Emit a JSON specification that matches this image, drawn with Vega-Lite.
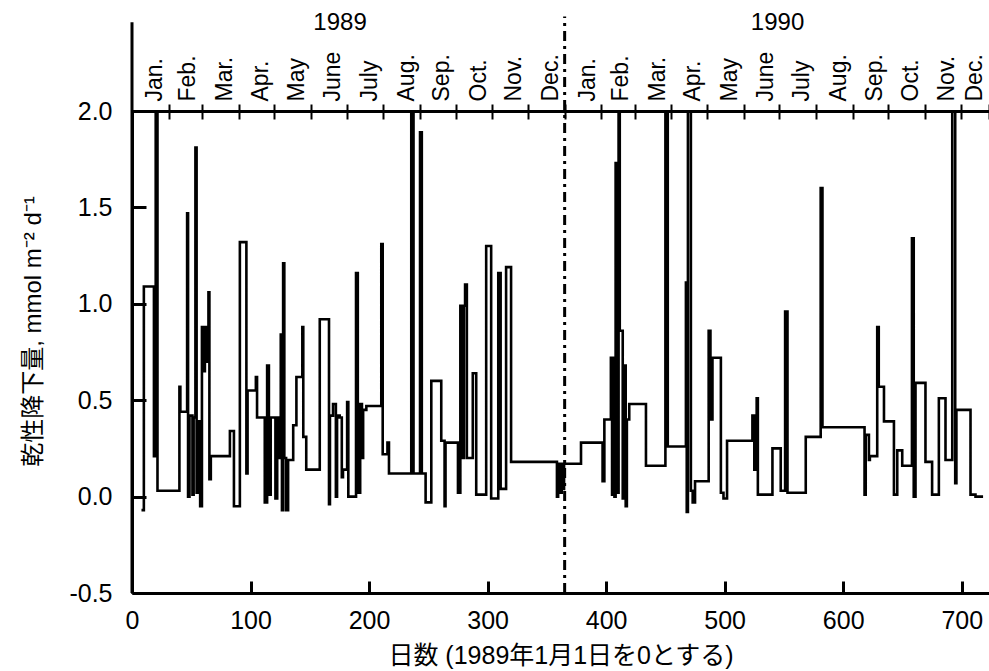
{
  "$schema": "https://vega.github.io/schema/vega-lite/v6.json",
  "width": 857,
  "height": 482,
  "autosize": {"type": "none"},
  "padding": {"left": 132, "top": 111, "right": 0, "bottom": 78},
  "background": "white",
  "config": {
    "view": {"stroke": null},
    "font": "Liberation Sans, Noto Sans CJK JP, sans-serif",
    "axis": {
      "grid": false,
      "labelColor": "black",
      "domainColor": "black",
      "tickColor": "black",
      "titleColor": "black",
      "labelFlush": false,
      "labelOverlap": false,
      "labelBound": false,
      "labelFont": "Liberation Sans, Noto Sans CJK JP, sans-serif",
      "titleFont": "Liberation Sans, Noto Sans CJK JP, sans-serif",
      "titleFontWeight": "normal"
    }
  },
  "datasets": {
    "series": [
      {"d": 8, "v": -0.07}, {"d": 10, "v": 1.09}, {"d": 18.5, "v": 0.21}, {"d": 19.3, "v": 1.0},
      {"d": 20, "v": 2.3}, {"d": 21.5, "v": 0.03}, {"d": 40, "v": 0.57}, {"d": 40.8, "v": 0.44},
      {"d": 46.5, "v": 1.47}, {"d": 47.3, "v": 0.0}, {"d": 48.5, "v": 0.42}, {"d": 51, "v": 0.01},
      {"d": 52, "v": 0.41}, {"d": 53.5, "v": 1.81}, {"d": 54.5, "v": 0.02}, {"d": 55.5, "v": 0.39},
      {"d": 57.5, "v": -0.05}, {"d": 59, "v": 0.88}, {"d": 60.5, "v": 0.65}, {"d": 61.5, "v": 0.88},
      {"d": 63, "v": 0.7}, {"d": 64.5, "v": 1.06}, {"d": 65.3, "v": 0.09}, {"d": 66.5, "v": 0.21},
      {"d": 82.6, "v": 0.34}, {"d": 86, "v": -0.05}, {"d": 91, "v": 1.32}, {"d": 96.5, "v": 0.12},
      {"d": 97.5, "v": 0.55}, {"d": 104.5, "v": 0.62}, {"d": 105.5, "v": 0.41}, {"d": 112, "v": -0.03},
      {"d": 114, "v": 0.68}, {"d": 115.5, "v": 0.01}, {"d": 117, "v": 0.41}, {"d": 121, "v": -0.01},
      {"d": 122.5, "v": 0.41}, {"d": 124.5, "v": 0.2}, {"d": 125.5, "v": 0.84}, {"d": 126.5, "v": -0.07},
      {"d": 127.5, "v": 1.21}, {"d": 128.5, "v": 0.2}, {"d": 130, "v": -0.07}, {"d": 131.7, "v": 0.19},
      {"d": 136, "v": 0.37}, {"d": 138.7, "v": 0.62}, {"d": 143.7, "v": 0.88}, {"d": 144.5, "v": 0.31},
      {"d": 147, "v": 0.14}, {"d": 158.4, "v": 0.92}, {"d": 166.2, "v": -0.04}, {"d": 167, "v": 0.42},
      {"d": 169.6, "v": 0.48}, {"d": 172, "v": 0.0}, {"d": 173, "v": 0.42}, {"d": 175.2, "v": 0.41},
      {"d": 177, "v": 0.1}, {"d": 178, "v": 0.14}, {"d": 181.5, "v": 0.49}, {"d": 182.5, "v": 0.0},
      {"d": 189, "v": 1.16}, {"d": 190.5, "v": 0.02}, {"d": 192.5, "v": 0.48}, {"d": 194, "v": 0.2},
      {"d": 195, "v": 0.45}, {"d": 197.7, "v": 0.47}, {"d": 210.3, "v": 1.31}, {"d": 211.5, "v": 0.22},
      {"d": 215.5, "v": 0.28}, {"d": 216.8, "v": 0.12}, {"d": 235.6, "v": 2.3}, {"d": 237.5, "v": 0.12},
      {"d": 243, "v": 1.89}, {"d": 244.5, "v": 0.12}, {"d": 247.7, "v": -0.03}, {"d": 252.5, "v": 0.6},
      {"d": 260.9, "v": 0.29}, {"d": 263.7, "v": -0.05}, {"d": 264.5, "v": 0.28}, {"d": 275, "v": 0.02},
      {"d": 277, "v": 0.99}, {"d": 279, "v": 0.2}, {"d": 280, "v": 0.99}, {"d": 281, "v": 1.1},
      {"d": 282.5, "v": 0.2}, {"d": 287.5, "v": 0.64}, {"d": 290.4, "v": 0.01}, {"d": 298.8, "v": 1.3},
      {"d": 303, "v": -0.01}, {"d": 309, "v": 1.16}, {"d": 311, "v": 0.04}, {"d": 315.6, "v": 1.19},
      {"d": 319.8, "v": 0.18}, {"d": 358.5, "v": 0.0}, {"d": 359.5, "v": 0.17}, {"d": 361.5, "v": 0.02},
      {"d": 362.5, "v": 0.17}, {"d": 363.5, "v": 0.04}, {"d": 364.5, "v": 0.17}, {"d": 378.8, "v": 0.28},
      {"d": 397, "v": 0.08}, {"d": 398.5, "v": 0.4}, {"d": 404, "v": 0.72}, {"d": 405, "v": 0.01},
      {"d": 406, "v": 0.72}, {"d": 407, "v": 0.0}, {"d": 408, "v": 1.73}, {"d": 409.5, "v": 0.02},
      {"d": 410.5, "v": 2.3}, {"d": 411.5, "v": 0.86}, {"d": 414, "v": -0.01}, {"d": 415.5, "v": 0.68},
      {"d": 416.5, "v": -0.05}, {"d": 417.5, "v": 0.4}, {"d": 419.5, "v": 0.48}, {"d": 433.6, "v": 0.16},
      {"d": 450, "v": 2.3}, {"d": 452, "v": 0.26}, {"d": 467.3, "v": 1.11}, {"d": 468, "v": -0.08},
      {"d": 469, "v": 2.3}, {"d": 471.5, "v": 0.03}, {"d": 473, "v": -0.03}, {"d": 475, "v": 0.08},
      {"d": 486.5, "v": 0.86}, {"d": 488, "v": 0.4}, {"d": 489.7, "v": 0.72}, {"d": 496.8, "v": 0.02},
      {"d": 499, "v": -0.01}, {"d": 502, "v": 0.29}, {"d": 523.4, "v": 0.42}, {"d": 525, "v": 0.14},
      {"d": 527, "v": 0.51}, {"d": 528, "v": 0.01}, {"d": 540.3, "v": 0.25}, {"d": 547.3, "v": 0.03},
      {"d": 551, "v": 0.96}, {"d": 553, "v": 0.02}, {"d": 568.4, "v": 0.31}, {"d": 581, "v": 1.6},
      {"d": 582.5, "v": 0.36}, {"d": 618, "v": 0.01}, {"d": 619, "v": 0.32}, {"d": 621.7, "v": 0.19},
      {"d": 622.5, "v": 0.21}, {"d": 628.7, "v": 0.88}, {"d": 630, "v": 0.57}, {"d": 634.4, "v": 0.39},
      {"d": 642.8, "v": 0.01}, {"d": 645.6, "v": 0.24}, {"d": 649.8, "v": 0.16}, {"d": 658, "v": 1.34},
      {"d": 659.5, "v": 0.0}, {"d": 661, "v": 0.59}, {"d": 669.4, "v": 0.18}, {"d": 675, "v": 0.01},
      {"d": 680.7, "v": 0.51}, {"d": 686.3, "v": 0.19}, {"d": 692, "v": 2.3}, {"d": 694.5, "v": 0.07},
      {"d": 695.5, "v": 0.45}, {"d": 707.4, "v": 0.01}, {"d": 711.6, "v": 0.0}, {"d": 718, "v": 0.0}
    ],
    "years": [
      {"d": 175.5, "yv": 2.454, "t": "1989"},
      {"d": 544.6, "yv": 2.454, "t": "1990"}
    ],
    "spine": [{"d": 0, "y0": -0.5, "y1": 2.46}],
    "divider": [{"d": 365, "y0": -0.5, "y1": 2.49}]
  },
  "layer": [
    {
      "data": {"name": "series"},
      "mark": {"type": "line", "interpolate": "step-after", "color": "black", "strokeWidth": 2.6, "clip": true},
      "encoding": {
        "x": {
          "field": "d", "type": "quantitative",
          "scale": {"domain": [0, 723], "nice": false, "zero": false},
          "axis": {
            "orient": "bottom", "values": [0, 100, 200, 300, 400, 500, 600, 700],
            "tickSize": -12, "tickWidth": 3, "domainWidth": 3,
            "labelFontSize": 25, "labelPadding": 27,
            "title": "日数 (1989年1月1日を0とする)", "titleFontSize": 25,
            "titleY": 62, "titleBaseline": "middle"
          }
        },
        "y": {
          "field": "v", "type": "quantitative",
          "scale": {"domain": [-0.5, 2], "nice": false, "zero": false},
          "axis": {
            "orient": "left", "values": [-0.5, 0, 0.5, 1, 1.5, 2],
            "labelExpr": "datum.value < 0 ? '-0.5' : format(datum.value, '.1f')",
            "tickSize": -14, "tickWidth": 3, "domainWidth": 3,
            "labelFontSize": 25, "labelPadding": 34,
            "title": "乾性降下量, mmol m⁻² d⁻¹", "titleFontSize": 24,
            "titleX": -99, "titleY": 220, "titleAngle": -90,
            "titleBaseline": "middle", "titleAlign": "center"
          }
        }
      }
    },
    {
      "data": {"name": "years"},
      "mark": {"type": "text", "fontSize": 24, "baseline": "middle", "align": "center", "color": "black"},
      "encoding": {
        "x": {
          "field": "d", "type": "quantitative",
          "scale": {"domain": [0, 723], "nice": false, "zero": false},
          "axis": {
            "orient": "top",
            "values": [31, 59, 90, 120, 151, 181, 212, 243, 273, 304, 334, 365, 396, 424, 455, 485, 516, 546, 577, 608, 638, 669, 699, 722.9],
            "labelExpr": "['Jan.','Feb.','Mar.','Apr.','May','June','July','Aug.','Sep.','Oct.','Nov.','Dec.'][indexof([31,59,90,120,151,181,212,243,273,304,334,365,396,424,455,485,516,546,577,608,638,669,699,722.9], datum.value) % 12]",
            "labelAngle": -90, "labelAlign": "left", "labelBaseline": "middle",
            "labelOffset": -14, "labelPadding": 3, "labelFontSize": 23,
            "tickSize": 7, "tickWidth": 2, "domainWidth": 3, "title": null
          }
        },
        "y": {"field": "yv", "type": "quantitative", "scale": {"domain": [-0.5, 2], "nice": false, "zero": false}, "axis": null},
        "text": {"field": "t"}
      }
    },
    {
      "data": {"name": "spine"},
      "mark": {"type": "rule", "strokeWidth": 3, "color": "black"},
      "encoding": {
        "x": {
          "field": "d", "type": "quantitative",
          "scale": {"domain": [0, 723], "nice": false, "zero": false},
          "axis": {
            "orient": "top",
            "values": [31, 59, 90, 120, 151, 181, 212, 243, 273, 304, 334, 365, 396, 424, 455, 485, 516, 546, 577, 608, 638, 669, 699, 722.9],
            "labels": false, "domain": false, "tickSize": -8, "tickWidth": 2, "title": null
          }
        },
        "y": {"field": "y0", "type": "quantitative", "scale": {"domain": [-0.5, 2], "nice": false, "zero": false}, "axis": null},
        "y2": {"field": "y1"}
      }
    },
    {
      "data": {"name": "divider"},
      "mark": {"type": "rule", "strokeWidth": 3, "color": "black", "strokeDash": [10, 5, 3, 5]},
      "encoding": {
        "x": {"field": "d", "type": "quantitative", "scale": {"domain": [0, 723], "nice": false, "zero": false}, "axis": null},
        "y": {"field": "y0", "type": "quantitative", "scale": {"domain": [-0.5, 2], "nice": false, "zero": false}, "axis": null},
        "y2": {"field": "y1"}
      }
    }
  ],
  "resolve": {"axis": {"x": "independent", "y": "independent"}}
}
